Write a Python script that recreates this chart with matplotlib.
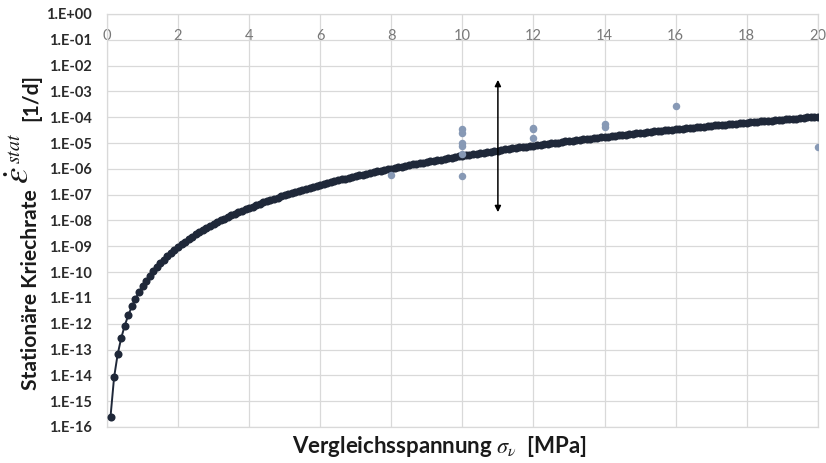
import numpy as np
import matplotlib
matplotlib.use("Agg")
import matplotlib.pyplot as plt
from matplotlib.ticker import FixedLocator, FuncFormatter

plt.rcParams["font.family"] = ["Lato", "DejaVu Sans"]
plt.rcParams["mathtext.fontset"] = "stix"

# Equivalent stress grid of the model curve [MPa]
stress = np.round(np.arange(1, 201) / 10.0, 1)

# log10 of the stationary creep rate [1/d] at each stress value
rate_log10 = [
    -15.60, -14.08, -13.19, -12.56, -12.07, -11.67, -11.33, -11.04, -10.78,
    -10.55, -10.34, -10.15, -9.97, -9.81, -9.66, -9.52, -9.39, -9.26, -9.14,
    -9.03, -8.92, -8.82, -8.72, -8.63, -8.54, -8.45, -8.37, -8.29, -8.21,
    -8.14, -8.07, -8.00, -7.93, -7.87, -7.80, -7.74, -7.68, -7.62, -7.56,
    -7.51, -7.46, -7.40, -7.35, -7.30, -7.25, -7.20, -7.16, -7.11, -7.06,
    -7.02, -6.98, -6.93, -6.89, -6.85, -6.81, -6.77, -6.73, -6.69, -6.66,
    -6.62, -6.58, -6.55, -6.51, -6.48, -6.44, -6.41, -6.38, -6.35, -6.31,
    -6.28, -6.25, -6.22, -6.19, -6.16, -6.13, -6.10, -6.07, -6.04, -6.02,
    -5.99, -5.96, -5.94, -5.91, -5.88, -5.86, -5.83, -5.81, -5.78, -5.76,
    -5.73, -5.71, -5.68, -5.66, -5.64, -5.61, -5.59, -5.57, -5.54, -5.52,
    -5.50, -5.48, -5.46, -5.44, -5.41, -5.39, -5.37, -5.35, -5.33, -5.31,
    -5.29, -5.27, -5.25, -5.23, -5.21, -5.19, -5.17, -5.16, -5.14, -5.12,
    -5.10, -5.08, -5.06, -5.05, -5.03, -5.01, -4.99, -4.98, -4.96, -4.94,
    -4.92, -4.91, -4.89, -4.87, -4.86, -4.84, -4.83, -4.81, -4.79, -4.78,
    -4.76, -4.75, -4.73, -4.72, -4.70, -4.69, -4.67, -4.65, -4.64, -4.63,
    -4.61, -4.60, -4.58, -4.57, -4.55, -4.54, -4.52, -4.51, -4.50, -4.48,
    -4.47, -4.46, -4.44, -4.43, -4.42, -4.40, -4.39, -4.38, -4.36, -4.35,
    -4.34, -4.32, -4.31, -4.30, -4.29, -4.27, -4.26, -4.25, -4.24, -4.22,
    -4.21, -4.20, -4.19, -4.17, -4.16, -4.15, -4.14, -4.13, -4.12, -4.10,
    -4.09, -4.08, -4.07, -4.06, -4.05, -4.04, -4.02, -4.01, -4.00, -3.99,
    -3.98,
]
rate = 10.0 ** np.array(rate_log10)

# Measured creep rates from laboratory tests
test_stress = [8, 10, 10, 10, 10, 10, 10, 12, 12, 12, 14, 14, 16, 20]
test_rate = [5.7e-7, 3.5e-5, 2.5e-5, 9.8e-6, 7.6e-6, 3.6e-6, 5.3e-7,
             4.0e-5, 3.5e-5, 1.6e-5, 5.5e-5, 4.3e-5, 2.7e-4, 7.2e-6]

# Scatter band indicator
band_stress = 11.0
band_top = 2.8e-3
band_bottom = 2.1e-8

x_ticks = [0, 2, 4, 6, 8, 10, 12, 14, 16, 18, 20]
y_exponents = list(range(-16, 1))

W, H = 826, 463
fig = plt.figure(figsize=(W / 100, H / 100), dpi=100)
ax = fig.add_axes([0.1295, 0.0778, 0.8605, 0.892])

ax.plot(stress, rate, color="#1f2839", lw=1.4, marker="o", markersize=5.8,
        markeredgewidth=0, zorder=3)
ax.plot(test_stress, test_rate, linestyle="none", marker="o", markersize=5.4,
        color="#8799b5", markeredgewidth=0, zorder=4)

ax.annotate("", xy=(band_stress, band_bottom), xytext=(band_stress, band_top),
            arrowprops=dict(arrowstyle="<|-|>", color="black", lw=1.1,
                            mutation_scale=9, shrinkA=0, shrinkB=0), zorder=5)

ax.set_yscale("log")
ax.set_xlim(0, 20)
ax.set_ylim(1e-16, 1e0)
ax.yaxis.set_major_locator(FixedLocator([10.0 ** e for e in y_exponents]))
ax.yaxis.set_minor_locator(FixedLocator([]))
ax.yaxis.set_major_formatter(
    FuncFormatter(lambda v, p: "1.E{:+03d}".format(int(round(np.log10(v))))))
ax.set_xticks(x_ticks)
ax.xaxis.tick_top()
ax.tick_params(axis="x", length=0, pad=-21, labelsize=10.5, labelcolor="#777777")
ax.tick_params(axis="y", length=0, pad=11, labelsize=10.5, labelcolor="#2b2b2b")
for lab in ax.get_yticklabels():
    lab.set_fontweight("bold")

ax.grid(True, color="#d9d9d9", lw=0.9)
ax.set_axisbelow(True)
for s in ax.spines.values():
    s.set_color("#d9d9d9")
    s.set_linewidth(0.9)

renderer = fig.canvas.get_renderer()


def fitted_size(text, width_px, **kw):
    probe = fig.text(0, 0, text, fontsize=10, **kw)
    w = probe.get_window_extent(renderer).width
    probe.remove()
    return 10 * width_px / w


# x-axis title
xlab = r"Vergleichsspannung $\sigma_{\nu}$  [MPa]"
xs = fitted_size(xlab, 296, fontweight="bold")
fig.text(440 / W, (H - 453) / H, xlab, ha="center", va="baseline",
         fontsize=xs, fontweight="bold", color="#1a1a1a")

# y-axis title, assembled from pieces stacked bottom-to-top
ink = "#1a1a1a"
main = "Stationäre Kriechrate"
ms = fitted_size(main, 200, fontweight="bold")


def put(text, x_px, y_px, **kw):
    t = fig.text(x_px / W, y_px / H, text, rotation=90, rotation_mode="anchor",
                 ha="left", va="baseline", color=ink, **kw)
    return t.get_window_extent(renderer)


bb = put(main, 37, H - 390, fontsize=ms, fontweight="bold")
bb = put(r"$\dot{\varepsilon}$", 29, bb.y1 + 5, fontsize=ms * 1.75)
bb = put(r"$stat$", 20, bb.y1 + 3, fontsize=ms * 0.95)
put("[1/d]", 37, bb.y1 + 12, fontsize=ms, fontweight="bold")

fig.savefig("out.png", dpi=100)
